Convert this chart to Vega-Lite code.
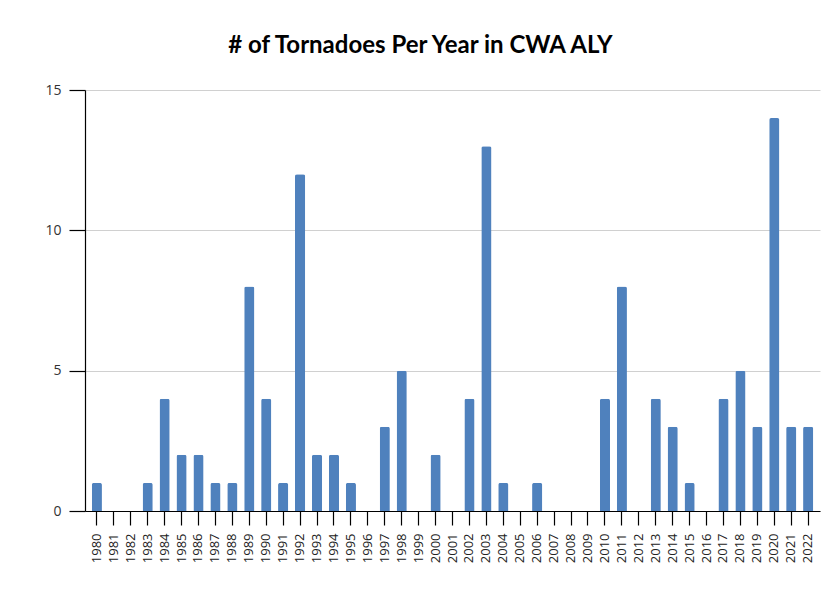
{
  "$schema": "https://vega.github.io/schema/vega-lite/v6.json",
  "autosize": {"type": "none"},
  "width": 735,
  "height": 421,
  "padding": {"left": 85, "top": 90, "right": 15, "bottom": 80},
  "background": "white",
  "config": {"view": {"stroke": null}, "font": "Lato"},
  "title": {
    "text": "# of Tornadoes Per Year in CWA ALY",
    "font": "Lato",
    "fontSize": 24,
    "fontWeight": "bold",
    "color": "#000000",
    "anchor": "middle",
    "frame": "group",
    "dx": -32,
    "offset": 25
  },
  "data": {
    "values": [
      {"year": "1980", "count": 1}, {"year": "1981", "count": 0}, {"year": "1982", "count": 0},
      {"year": "1983", "count": 1}, {"year": "1984", "count": 4}, {"year": "1985", "count": 2},
      {"year": "1986", "count": 2}, {"year": "1987", "count": 1}, {"year": "1988", "count": 1},
      {"year": "1989", "count": 8}, {"year": "1990", "count": 4}, {"year": "1991", "count": 1},
      {"year": "1992", "count": 12}, {"year": "1993", "count": 2}, {"year": "1994", "count": 2},
      {"year": "1995", "count": 1}, {"year": "1996", "count": 0}, {"year": "1997", "count": 3},
      {"year": "1998", "count": 5}, {"year": "1999", "count": 0}, {"year": "2000", "count": 2},
      {"year": "2001", "count": 0}, {"year": "2002", "count": 4}, {"year": "2003", "count": 13},
      {"year": "2004", "count": 1}, {"year": "2005", "count": 0}, {"year": "2006", "count": 1},
      {"year": "2007", "count": 0}, {"year": "2008", "count": 0}, {"year": "2009", "count": 0},
      {"year": "2010", "count": 4}, {"year": "2011", "count": 8}, {"year": "2012", "count": 0},
      {"year": "2013", "count": 4}, {"year": "2014", "count": 3}, {"year": "2015", "count": 1},
      {"year": "2016", "count": 0}, {"year": "2017", "count": 4}, {"year": "2018", "count": 5},
      {"year": "2019", "count": 3}, {"year": "2020", "count": 14}, {"year": "2021", "count": 3},
      {"year": "2022", "count": 3}
    ]
  },
  "mark": {"type": "bar", "color": "#4F81BD", "cornerRadiusTopLeft": 2, "cornerRadiusTopRight": 2},
  "encoding": {
    "x": {
      "field": "year",
      "type": "ordinal",
      "sort": null,
      "scale": {"paddingInner": 0.4, "paddingOuter": 0.4},
      "axis": {
        "title": null,
        "labelAngle": -90,
        "labelAlign": "right",
        "labelBaseline": "middle",
        "labelFont": "Open Sans",
        "labelFontSize": 13,
        "labelColor": "#222222",
        "labelPadding": 8,
        "tickSize": 14,
        "tickColor": "#000000",
        "domainColor": "#000000",
        "domainWidth": 1.2,
        "tickWidth": 1.2,
        "grid": false
      }
    },
    "y": {
      "field": "count",
      "type": "quantitative",
      "scale": {"domain": [0, 15], "nice": false},
      "axis": {
        "title": null,
        "values": [0, 5, 10, 15],
        "labelFont": "Open Sans",
        "labelFontSize": 14,
        "labelColor": "#333333",
        "labelPadding": 8,
        "tickSize": 16,
        "tickColor": "#000000",
        "tickWidth": 1.2,
        "domainColor": "#000000",
        "domainWidth": 1.2,
        "grid": true,
        "gridColor": "#D0D0D0",
        "gridWidth": 1
      }
    }
  }
}
